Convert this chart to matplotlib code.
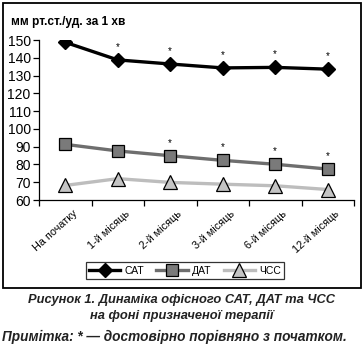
import matplotlib
matplotlib.use('Agg')
import matplotlib.pyplot as plt
from matplotlib.patches import Rectangle
from matplotlib.transforms import ScaledTranslation

plt.rcParams['font.family'] = ['Liberation Sans', 'DejaVu Sans']

# data
categories = ['На початку', '1-й місяць', '2-й місяць', '3-й місяць', '6-й місяць', '12-й місяць']
sat = [148.7, 138.8, 136.5, 134.3, 134.6, 133.6]
dat = [91.3, 87.6, 84.9, 82.3, 80.1, 77.4]
hr = [68.2, 72.0, 69.9, 68.9, 68.0, 65.9]
sat_sig = [False, True, True, True, True, True]
dat_sig = [False, False, True, True, True, True]

W, H = 364, 349
fig = plt.figure(figsize=(W / 100, H / 100), dpi=100)

# outer frame around the chart
fig.patches.append(Rectangle((3 / W, 61 / H), 358 / W, 285 / H, transform=fig.transFigure,
                             fill=False, edgecolor='black', linewidth=1.3))

ax = fig.add_axes([39 / W, 149 / H, 315 / W, 160 / H])
x = list(range(len(categories)))

ax.plot(x, sat, color='black', lw=2.4, marker='D', ms=7.5, mfc='black', mec='black', label='САТ', zorder=4)
ax.plot(x, dat, color='#6e6e6e', lw=2.4, marker='s', ms=8.5, mfc='#7a7a7a', mec='black', mew=0.9,
        label='ДАТ', zorder=3)
ax.plot(x, hr, color='#bdbdbd', lw=2.4, marker='^', ms=9.5, mfc='#c4c4c4', mec='black', mew=0.9,
        label='ЧСС', zorder=2)

# significance asterisks
for xi, v, s in zip(x, sat, sat_sig):
    if s:
        ax.annotate('*', (xi, v), xytext=(0, 8), textcoords='offset pixels', ha='center', va='bottom',
                    fontsize=7)
for xi, v, s in zip(x, dat, dat_sig):
    if s:
        ax.annotate('*', (xi, v), xytext=(0, 8), textcoords='offset pixels', ha='center', va='bottom',
                    fontsize=7)

ax.set_xlim(-0.5, len(categories) - 0.5)
ax.set_ylim(60, 150)
ax.set_yticks(range(60, 151, 10))
ax.tick_params(axis='y', labelsize=10, length=4, width=0.9, pad=2)
ax.set_xticks(x)
ax.set_xticklabels(categories, rotation=42, ha='right', rotation_mode='anchor', fontsize=7.8)
ax.tick_params(axis='x', which='major', length=0, pad=6)
shift = ScaledTranslation(7 / 100, 0, fig.dpi_scale_trans)
for lbl in ax.get_xticklabels():
    lbl.set_transform(lbl.get_transform() + shift)
ax.set_xticks([i - 0.5 for i in range(len(categories) + 1)], minor=True)
ax.tick_params(axis='x', which='minor', length=4, width=0.9)
for side in ['top', 'right']:
    ax.spines[side].set_visible(False)
for side in ['left', 'bottom']:
    ax.spines[side].set_linewidth(0.9)

fig.text(11 / W, 1 - 22 / H, 'мм рт.ст./уд. за 1 хв', fontsize=8.6, fontweight='bold', va='center')

leg = fig.legend(loc='center', bbox_to_anchor=(185 / W, 1 - 270.5 / H), ncol=3, fontsize=7.5,
                 frameon=True, fancybox=False, edgecolor='black', handlelength=3.0, columnspacing=1.2,
                 handletextpad=0.4, borderpad=0.3)
leg.get_frame().set_linewidth(0.9)

fig.text(0.5, 1 - 300 / H, 'Рисунок 1. Динаміка офісного САТ, ДАТ та ЧСС', ha='center', va='center',
         fontsize=9.3, fontweight='bold', style='italic', color='#222222')
fig.text(0.5, 1 - 316 / H, 'на фоні призначеної терапії', ha='center', va='center',
         fontsize=9.3, fontweight='bold', style='italic', color='#222222')
fig.text(2 / W, 1 - 337 / H, 'Примітка: * — достовірно порівняно з початком.', ha='left', va='center',
         fontsize=9.8, fontweight='bold', style='italic', color='#222222')

fig.savefig('out.png', dpi=100)
